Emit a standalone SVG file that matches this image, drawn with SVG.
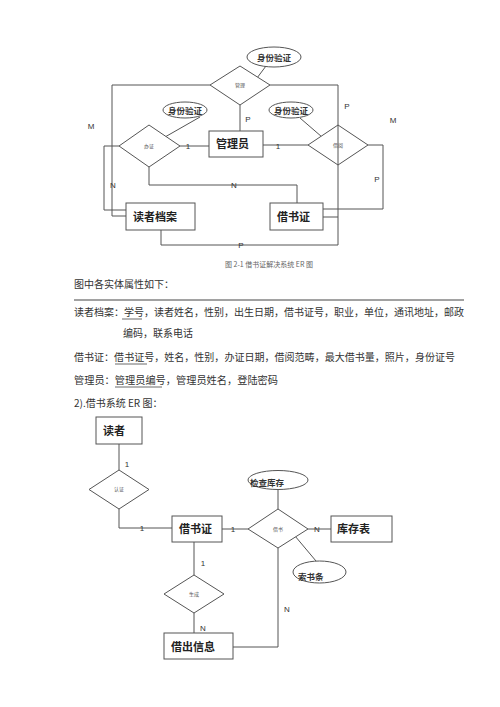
<svg xmlns="http://www.w3.org/2000/svg" width="500" height="707" viewBox="0 0 500 707">
<style>
.ln{fill:none;stroke:#555;stroke-width:1}
.bx{fill:#fff;stroke:#555;stroke-width:1}
.bt{font-family:"Noto Sans CJK SC","Liberation Sans",sans-serif;font-size:11px;fill:#222;font-weight:bold}
.et{font-family:"Noto Sans CJK SC","Liberation Sans",sans-serif;font-size:8.5px;fill:#333;font-weight:bold}
.dt{font-family:"Noto Sans CJK SC","Liberation Sans",sans-serif;font-size:5px;fill:#555}
.lb{font-family:"Liberation Sans",sans-serif;font-size:8px;fill:#333}
.tx{font-family:"Noto Sans CJK SC","Liberation Serif",serif;font-size:10px;fill:#333}
.cap{font-family:"Noto Sans CJK SC","Liberation Serif",serif;font-size:7px;fill:#666}
</style>
<rect width="500" height="707" fill="#fff"/>
<g id="connectors">
<polyline class="ln" points="210,85 112,85 112,216 126,216"/>
<polyline class="ln" points="270,85 338,85 338,245 161,245 161,230"/>
<line class="ln" x1="240" y1="105" x2="240" y2="131"/>
<line class="ln" x1="257" y1="78" x2="266" y2="66"/>
<polyline class="ln" points="119,146 104,146 104,210 126,210"/>
<line class="ln" x1="180" y1="146" x2="209" y2="146"/>
<line class="ln" x1="263" y1="145" x2="308" y2="145"/>
<line class="ln" x1="200" y1="117" x2="165" y2="137"/>
<line class="ln" x1="300" y1="118" x2="322" y2="137"/>
<polyline class="ln" points="149,167 149,185 297,185 297,203"/>
<polyline class="ln" points="368,145 383,145 383,209 323,209"/>
<line class="ln" x1="323" y1="217" x2="338" y2="217"/>
<line class="ln" x1="119" y1="444" x2="119" y2="470"/>
<polyline class="ln" points="119,509 119,528 172,528"/>
<line class="ln" x1="222" y1="529" x2="248" y2="529"/>
<line class="ln" x1="308" y1="529" x2="331" y2="529"/>
<line class="ln" x1="278" y1="489" x2="278" y2="509"/>
<line class="ln" x1="316" y1="561" x2="295" y2="536"/>
<polyline class="ln" points="278,548 278,647 233,647"/>
<line class="ln" x1="194" y1="542" x2="194" y2="575"/>
<line class="ln" x1="194" y1="613" x2="194" y2="633"/>
</g>
<g id="labels">
<text class="lb" x="91" y="129" text-anchor="middle">M</text>
<text class="lb" x="393" y="123" text-anchor="middle">M</text>
<text class="lb" x="248" y="122" text-anchor="middle">P</text>
<text class="lb" x="347" y="109" text-anchor="middle">P</text>
<text class="lb" x="188" y="149" text-anchor="middle">1</text>
<text class="lb" x="278" y="149" text-anchor="middle">1</text>
<text class="lb" x="113" y="188" text-anchor="middle">N</text>
<text class="lb" x="234" y="188" text-anchor="middle">N</text>
<text class="lb" x="377" y="182" text-anchor="middle">P</text>
<text class="lb" x="241" y="248" text-anchor="middle">P</text>
<text class="lb" x="127" y="467" text-anchor="middle">1</text>
<text class="lb" x="142" y="531" text-anchor="middle">1</text>
<text class="lb" x="233" y="532" text-anchor="middle">1</text>
<text class="lb" x="317" y="532" text-anchor="middle">N</text>
<text class="lb" x="287" y="612" text-anchor="middle">N</text>
<text class="lb" x="203" y="566" text-anchor="middle">1</text>
<text class="lb" x="203" y="631" text-anchor="middle">N</text>
</g>
<g id="attr-top"><ellipse class="bx" cx="274" cy="57" rx="27" ry="10"/><text class="et" x="274" y="61" text-anchor="middle">身份验证</text></g>
<g id="rel-top"><polygon class="bx" points="240,66 270,85 240,105 210,85"/><text class="dt" x="240" y="87" text-anchor="middle">管理</text></g>
<g id="attr-left"><ellipse class="bx" cx="185" cy="110" rx="22" ry="8"/><text class="et" x="185" y="114" text-anchor="middle">身份验证</text></g>
<g id="attr-right"><ellipse class="bx" cx="291" cy="110" rx="22" ry="8"/><text class="et" x="291" y="114" text-anchor="middle">身份验证</text></g>
<g id="rel-left"><polygon class="bx" points="149,125 180,146 149,167 119,146"/><text class="dt" x="149" y="148" text-anchor="middle">办证</text></g>
<g id="rel-right"><polygon class="bx" points="338,125 368,145 338,165 308,145"/><text class="dt" x="338" y="147" text-anchor="middle">借阅</text></g>
<line class="ln" x1="338" y1="125" x2="338" y2="165"/>
<g id="manager"><rect class="bx" x="209" y="131" width="54" height="26"/><text class="bt" x="216" y="148">管理员</text></g>
<g id="reader-file"><rect class="bx" x="126" y="203" width="69" height="27"/><text class="bt" x="133" y="221">读者档案</text></g>
<g id="card-top"><rect class="bx" x="270" y="203" width="53" height="27"/><text class="bt" x="277" y="221">借书证</text></g>
<text class="cap" x="269" y="267" text-anchor="middle">图 2-1  借书证解决系统 ER 图</text>
<g id="text">
<text class="tx" x="74" y="288">图中各实体属性如下：</text>
<line x1="74" y1="300" x2="464" y2="300" stroke="#444" stroke-width="1"/>
<text class="tx" x="74" y="316" textLength="390" lengthAdjust="spacingAndGlyphs">读者档案：学号，读者姓名，性别，出生日期，借书证号，职业，单位，通讯地址，邮政</text>
<line x1="122" y1="319" x2="142" y2="319" stroke="#444" stroke-width="0.8"/>
<text class="tx" x="123" y="337" textLength="70" lengthAdjust="spacingAndGlyphs">编码，联系电话</text>
<text class="tx" x="74" y="361" textLength="381" lengthAdjust="spacingAndGlyphs">借书证：借书证号，姓名，性别，办证日期，借阅范畴，最大借书量，照片，身份证号</text>
<line x1="115" y1="364" x2="147" y2="364" stroke="#444" stroke-width="0.8"/>
<text class="tx" x="74" y="384" textLength="204" lengthAdjust="spacingAndGlyphs">管理员：管理员编号，管理员姓名，登陆密码</text>
<line x1="115" y1="387" x2="162" y2="387" stroke="#444" stroke-width="0.8"/>
<text class="tx" x="74" y="407">2).借书系统 ER 图：</text>
</g>
<g id="reader"><rect class="bx" x="96" y="417" width="46" height="27"/><text class="bt" x="103" y="435">读者</text></g>
<g id="rel-b1"><polygon class="bx" points="119,470 149,489.5 119,509 89,489.5"/><text class="dt" x="119" y="491" text-anchor="middle">认证</text></g>
<g id="card"><rect class="bx" x="172" y="516" width="50" height="26"/><text class="bt" x="179" y="533">借书证</text></g>
<g id="attr-check"><ellipse class="bx" cx="278" cy="480" rx="30" ry="9.5"/><text class="et" x="250" y="486">检查库存</text></g>
<g id="rel-b2"><polygon class="bx" points="278,509 308,529 278,548 248,529"/><text class="dt" x="278" y="531" text-anchor="middle">借书</text></g>
<g id="stock"><rect class="bx" x="331" y="516" width="61" height="26"/><text class="bt" x="337" y="533">库存表</text></g>
<g id="attr-slip"><ellipse class="bx" cx="319.5" cy="572" rx="26.5" ry="11"/><text class="et" x="298" y="580">索书条</text></g>
<g id="rel-b3"><polygon class="bx" points="194,575 224,594 194,613 164,594"/><text class="dt" x="194" y="596" text-anchor="middle">生成</text></g>
<g id="loan"><rect class="bx" x="164" y="633" width="69" height="26"/><text class="bt" x="171" y="651">借出信息</text></g>
</svg>
